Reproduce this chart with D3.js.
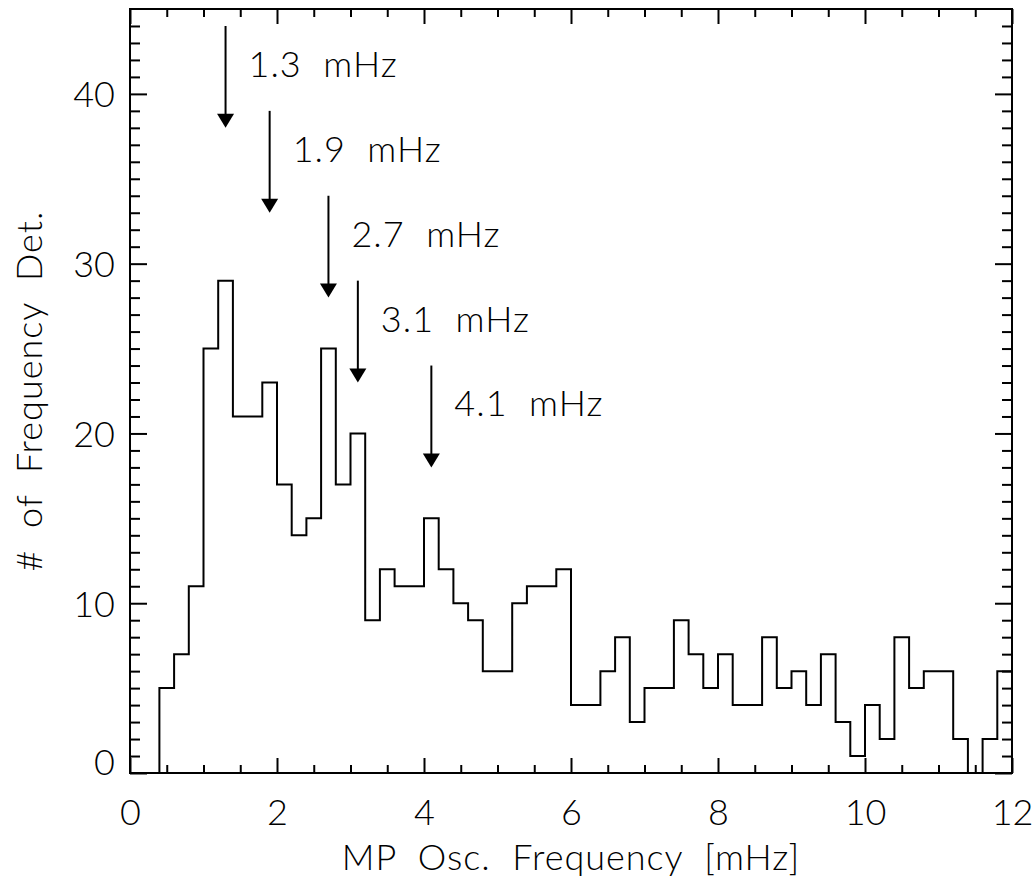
<!DOCTYPE html>
<html>
<head>
<meta charset="utf-8">
<script src="https://cdn.jsdelivr.net/npm/d3@7/dist/d3.min.js"></script>
<style>
  body { margin: 0; background: #fff; }
  svg text { font-family: "Lato", "DejaVu Sans", sans-serif; font-weight: 300; fill: #000; white-space: pre; }
  .spaced { letter-spacing: 1px; }
</style>
</head>
<body>
<div id="hist-vis"></div>
<script>
// histogram bins: first left edge and width [mHz]
var binStart = 0.4;
var binWidth = 0.2;
var counts = [5, 7, 11, 25, 29, 21, 21, 23, 17, 14,
  15, 25, 17, 20, 9, 12, 11, 11, 15, 12,
  10, 9, 6, 6, 10, 11, 11, 12, 4, 4,
  6, 8, 3, 5, 5, 9, 7, 5, 7, 4,
  4, 8, 5, 6, 4, 7, 3, 1, 4, 2,
  8, 5, 6, 6, 2, 0, 2, 6];

var xTicks = [0, 2, 4, 6, 8, 10, 12];
var yTicks = [0, 10, 20, 30, 40];

// marked peaks
var peakFreqs = [1.3, 1.9, 2.7, 3.1, 4.1];
var peakLabels = ['1.3  mHz', '1.9  mHz', '2.7  mHz', '3.1  mHz', '4.1  mHz'];
var arrowTops = [44, 39, 34, 29, 24];
var arrowTips = [38, 33, 28, 23, 18];
var labelLevels = [41, 36, 31, 26, 21];

var xTitle = 'MP  Osc.  Frequency  [mHz]';
var yTitle = '#  of  Frequency  Det.';


HistVis = function(_parentElement) {
  this.parentElement = _parentElement;
  this.initVis();
};

HistVis.prototype.initVis = function() {
  var vis = this;

  vis.margin = {
    'top': 9,
    'bottom': 105,
    'left': 130,
    'right': 21
  };
  vis.width = 1033 - vis.margin.left - vis.margin.right;
  vis.height = 878 - vis.margin.top - vis.margin.bottom;
  vis.fontSize = '36px';

  vis.svg = d3.select('#' + vis.parentElement).append('svg')
    .attr('width', 1033)
    .attr('height', 878)
    .append('g')
    .attr('transform', 'translate(' + vis.margin.left + ',' + vis.margin.top + ')');

  vis.x = d3.scaleLinear()
    .domain([0, 12])
    .range([0, vis.width]);

  vis.y = d3.scaleLinear()
    .domain([0, 45])
    .range([vis.height, 0]);

  vis.wrangleData();
};

HistVis.prototype.wrangleData = function() {
  var vis = this;

  // step points, starting from the baseline at the first edge
  vis.steps = [{'f': binStart, 'n': 0}];
  counts.forEach((d, i) => {
    vis.steps.push({'f': binStart + i * binWidth, 'n': d});
  });
  vis.steps.push({'f': binStart + counts.length * binWidth, 'n': counts[counts.length - 1]});

  vis.peaks = peakFreqs.map((d, i) => {
    return {
      'freq': d,
      'label': peakLabels[i],
      'top': arrowTops[i],
      'tip': arrowTips[i],
      'level': labelLevels[i]
    };
  });

  vis.xMinor = d3.range(0, 12.01, 0.5).filter((d) => !xTicks.includes(d));
  vis.yMinor = d3.range(0, 45, 1).filter((d) => !yTicks.includes(d));

  vis.updateVis();
};

HistVis.prototype.updateVis = function() {
  var vis = this;

  // ticks on all four sides, pointing inward
  function styleAxis(g) {
    g.select('.domain').remove();
    g.selectAll('line')
      .attr('stroke', '#000')
      .attr('stroke-width', 2);
    g.selectAll('text')
      .style('font-size', vis.fontSize);
  }

  vis.svg.append('g')
    .attr('class', 'x-axis')
    .attr('transform', 'translate(0,' + vis.height + ')')
    .call(d3.axisBottom(vis.x).tickValues(xTicks).tickSize(-15).tickPadding(26))
    .call(styleAxis);

  vis.svg.append('g')
    .attr('transform', 'translate(0,' + vis.height + ')')
    .call(d3.axisBottom(vis.x).tickValues(vis.xMinor).tickSize(-8).tickFormat(''))
    .call(styleAxis);

  vis.svg.append('g')
    .call(d3.axisTop(vis.x).tickValues(xTicks).tickSize(-15).tickFormat(''))
    .call(styleAxis);

  vis.svg.append('g')
    .call(d3.axisTop(vis.x).tickValues(vis.xMinor).tickSize(-8).tickFormat(''))
    .call(styleAxis);

  vis.svg.append('g')
    .attr('class', 'y-axis')
    .call(d3.axisLeft(vis.y).tickValues(yTicks).tickSize(-17).tickPadding(15))
    .call(styleAxis);

  vis.svg.select('.y-axis').selectAll('text')
    .attr('dy', (d) => d === 0 ? '0.03em' : '0.36em');

  vis.svg.append('g')
    .call(d3.axisLeft(vis.y).tickValues(vis.yMinor).tickSize(-10).tickFormat(''))
    .call(styleAxis);

  vis.svg.append('g')
    .attr('transform', 'translate(' + vis.width + ',0)')
    .call(d3.axisRight(vis.y).tickValues(yTicks).tickSize(-17).tickFormat(''))
    .call(styleAxis);

  vis.svg.append('g')
    .attr('transform', 'translate(' + vis.width + ',0)')
    .call(d3.axisRight(vis.y).tickValues(vis.yMinor).tickSize(-10).tickFormat(''))
    .call(styleAxis);

  vis.svg.append('rect')
    .attr('x', 0)
    .attr('y', 0)
    .attr('width', vis.width)
    .attr('height', vis.height)
    .attr('fill', 'none')
    .attr('stroke', '#000')
    .attr('stroke-width', 2);

  // histogram
  var line = d3.line()
    .x((d) => vis.x(d.f))
    .y((d) => vis.y(d.n))
    .curve(d3.curveStepAfter);

  vis.svg.append('path')
    .datum(vis.steps)
    .attr('class', 'hist-line')
    .attr('d', line)
    .attr('fill', 'none')
    .attr('stroke', '#000')
    .attr('stroke-width', 2)
    .attr('stroke-linejoin', 'miter');

  // arrows
  var headLen = 14;
  var headHalf = 8.5;

  var arrows = vis.svg.selectAll('.arrow')
    .data(vis.peaks)
    .enter()
    .append('g')
    .attr('class', 'arrow');

  arrows.append('line')
    .attr('x1', (d) => vis.x(d.freq))
    .attr('x2', (d) => vis.x(d.freq))
    .attr('y1', (d) => vis.y(d.top))
    .attr('y2', (d) => vis.y(d.tip) - headLen + 1)
    .attr('stroke', '#000')
    .attr('stroke-width', 2);

  arrows.append('path')
    .attr('d', (d) => {
      var px = vis.x(d.freq);
      var py = vis.y(d.tip);
      return 'M' + (px - headHalf) + ',' + (py - headLen) +
        'L' + (px + headHalf) + ',' + (py - headLen) +
        'L' + px + ',' + py + 'Z';
    })
    .attr('fill', '#000');

  arrows.append('text')
    .attr('class', 'spaced')
    .attr('x', (d) => vis.x(d.freq) + 23)
    .attr('y', (d) => vis.y(d.level))
    .text((d) => d.label)
    .style('font-size', vis.fontSize);

  // axis titles
  vis.svg.append('text')
    .attr('class', 'x-title spaced')
    .attr('x', vis.width / 2)
    .attr('y', vis.height + 97)
    .attr('text-anchor', 'middle')
    .text(xTitle)
    .style('font-size', vis.fontSize);

  vis.svg.append('text')
    .attr('class', 'y-title spaced')
    .attr('transform', 'translate(' + (42 - vis.margin.left) + ',' + (vis.height / 2) + ') rotate(-90)')
    .attr('text-anchor', 'middle')
    .text(yTitle)
    .style('font-size', vis.fontSize);
};

new HistVis('hist-vis');
</script>
</body>
</html>
